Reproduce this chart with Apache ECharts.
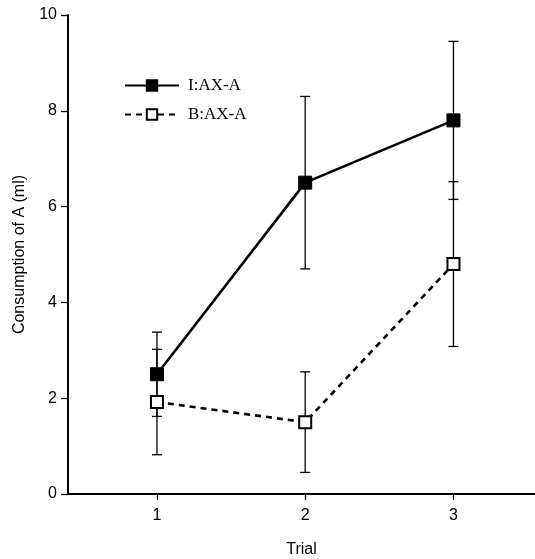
<!DOCTYPE html>
<html>
<head>
<meta charset="utf-8">
<script src="https://cdn.jsdelivr.net/npm/echarts@6/dist/echarts.min.js"></script>
<style>
  html, body { margin: 0; padding: 0; background: #fff; }
  #chart-container { width: 535px; height: 559px; }
</style>
</head>
<body>
<div id="chart-container"></div>
<script>
// values
var trials = [1, 2, 3];
var seriesNames = ['I:AX-A', 'B:AX-A'];
var iMeans = [2.5, 6.5, 7.8];
var iErr = [0.88, 1.8, 1.65];
var bMeans = [1.92, 1.5, 4.8];
var bErr = [1.1, 1.05, 1.72];

var dom = document.getElementById('chart-container');
var myChart = echarts.init(dom, null, { renderer: 'canvas' });

function pts(means) {
    return trials.map(function (t, i) { return [t, means[i]]; });
}
function bars(means, errs) {
    return trials.map(function (t, i) { return [t, means[i] - errs[i], means[i] + errs[i]]; });
}

function renderErr(params, api) {
    var lo = api.coord([api.value(0), api.value(1)]);
    var hi = api.coord([api.value(0), api.value(2)]);
    var w = 5;
    var style = { stroke: '#000', lineWidth: 1.3 };
    return {
        type: 'group',
        children: [
            { type: 'line', shape: { x1: hi[0], y1: hi[1], x2: lo[0], y2: lo[1] }, style: style },
            { type: 'line', shape: { x1: hi[0] - w, y1: hi[1], x2: hi[0] + w, y2: hi[1] }, style: style },
            { type: 'line', shape: { x1: lo[0] - w, y1: lo[1], x2: lo[0] + w, y2: lo[1] }, style: style }
        ]
    };
}

var axisFont = { fontFamily: 'Liberation Sans', fontSize: 16, color: '#000' };

var option = {
    animation: false,
    backgroundColor: '#fff',
    grid: { left: 68, top: 15, right: 0, bottom: 65, outerBoundsMode: 'none', containLabel: false },
    legend: {
        orient: 'vertical',
        left: 119,
        top: 72,
        itemWidth: 54,
        itemHeight: 13,
        itemGap: 12,
        data: seriesNames,
        textStyle: { fontFamily: 'Liberation Serif', fontSize: 17, color: '#000', padding: [0, 0, 0, 4] }
    },
    xAxis: {
        type: 'value',
        min: 0.4,
        max: 3.55,
        name: 'Trial',
        nameLocation: 'middle',
        nameGap: 48,
        nameTextStyle: axisFont,
        splitLine: { show: false },
        axisLine: { lineStyle: { color: '#000', width: 2 } },
        axisTick: { customValues: trials, length: 6, lineStyle: { color: '#000', width: 1.3 } },
        axisLabel: Object.assign({ customValues: trials, margin: 14 }, axisFont)
    },
    yAxis: {
        type: 'value',
        min: 0,
        max: 10,
        interval: 2,
        name: 'Consumption of A (ml)',
        nameLocation: 'middle',
        nameGap: 40,
        nameTextStyle: axisFont,
        splitLine: { show: false },
        axisLine: { lineStyle: { color: '#000', width: 2 } },
        axisTick: { length: 7, lineStyle: { color: '#000', width: 1.3 } },
        axisLabel: Object.assign({ margin: 11 }, axisFont)
    },
    series: [
        {
            type: 'custom',
            renderItem: renderErr,
            data: bars(iMeans, iErr),
            z: 1,
            silent: true
        },
        {
            type: 'custom',
            renderItem: renderErr,
            data: bars(bMeans, bErr),
            z: 1,
            silent: true
        },
        {
            name: seriesNames[0],
            type: 'line',
            data: pts(iMeans),
            symbol: 'rect',
            symbolSize: 13,
            z: 3,
            lineStyle: { color: '#000', width: 2.6 },
            itemStyle: { color: '#000', borderColor: '#000', borderWidth: 1 }
        },
        {
            name: seriesNames[1],
            type: 'line',
            data: pts(bMeans),
            symbol: 'rect',
            symbolSize: 12,
            z: 3,
            lineStyle: { color: '#000', width: 2.6, type: [6, 5] },
            itemStyle: { color: '#fff', borderColor: '#000', borderWidth: 2 }
        }
    ]
};

myChart.setOption(option);
</script>
</body>
</html>
